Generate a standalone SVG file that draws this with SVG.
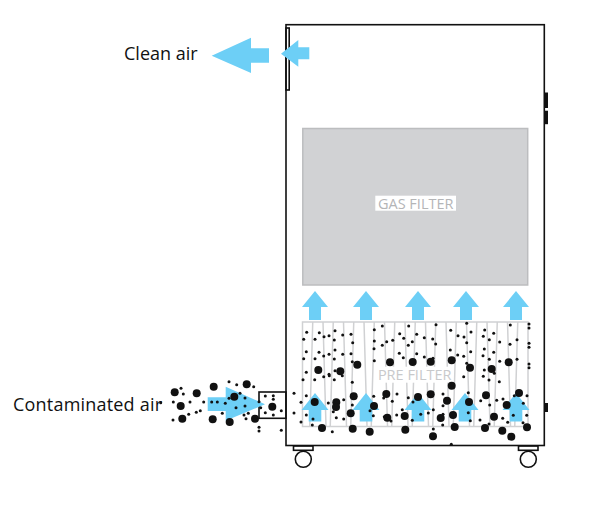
<svg xmlns="http://www.w3.org/2000/svg" width="591" height="506" viewBox="0 0 591 506">
<style>
.k{fill:none;stroke:#111;stroke-width:1.6}
.blk{fill:#111}
.air{fill:#6dcff6}
.lbl{font-family:"Open Sans","Liberation Sans",sans-serif;fill:#111;font-size:18px}
.flt{font-family:"Open Sans","Liberation Sans",sans-serif;fill:#b4b5b7;font-size:14.500px;text-anchor:middle}
.pleat{fill:none;stroke:#d0d1d3;stroke-width:1.500}
</style>
<defs>
<path id="up" class="air" d="M0 0L13.500 17H6.300V28.500H-6.300V17H-13.500Z"/>
<path id="up2" class="air" d="M0 0L13 16H6V29H-6V16H-13Z"/>
<circle id="l" r="4" class="blk"/>
<circle id="s" r="1.500" class="blk"/>
</defs>
<rect width="591" height="506" fill="#fff"/>
<g id="cabinet">
<rect class="k" x="286" y="24.700" width="258.300" height="420.800"/>
<rect class="k" x="286" y="28" width="3.200" height="62"/>
<rect class="blk" x="544" y="92.500" width="4" height="15.500"/>
<rect class="blk" x="544" y="110.700" width="4" height="13.500"/>
<rect class="blk" x="544.500" y="403" width="3.500" height="9"/>
<rect class="k" x="259" y="392" width="27" height="26.300"/>
</g>
<g id="wheel-left"><rect class="k" x="293.500" y="446" width="19.500" height="4.300"/><circle class="k" cx="303.300" cy="459.300" r="8"/></g>
<g id="wheel-right"><rect class="k" x="518.500" y="446" width="19.500" height="4.300"/><circle class="k" cx="528.300" cy="459.300" r="8"/></g>
<g id="gas-filter">
<rect x="302.800" y="128.500" width="224.900" height="156.500" fill="#d1d2d4" stroke="#bcbdbf" stroke-width="1.500"/>
<rect x="375.300" y="195.700" width="80.700" height="15" fill="#fff"/>
<text class="flt" x="415.700" y="208.500">GAS FILTER</text>
</g>
<g id="pre-filter">
<rect x="302.500" y="322" width="225.500" height="104.500" class="pleat"/>
<path class="pleat" d="M312.750 322L309.750 426M323 322L326 426M333.250 322L330.250 426M343.500 322L346.500 426M353.750 322L350.750 426M364 322L367 426M374.250 322L371.250 426M384.500 322L387.500 426M394.750 322L391.750 426M405 322L408 426M415.250 322L412.250 426M425.500 322L428.500 426M435.750 322L432.750 426M446 322L449 426M456.250 322L453.250 426M466.500 322L469.500 426M476.750 322L473.750 426M487 322L490 426M497.250 322L494.250 426M507.500 322L510.500 426M517.750 322L514.750 426"/>
<rect x="376.700" y="366.700" width="76" height="16" fill="#fff"/>
<text class="flt" x="414.700" y="379.500" style="fill:#c8c9cb">PRE FILTER</text>
</g>
<g id="connectors">
<use href="#up2" x="315" y="291"/><use href="#up2" x="366" y="291"/><use href="#up2" x="418" y="291"/><use href="#up2" x="466" y="291"/><use href="#up2" x="516" y="291"/>
<use href="#up" x="315" y="393"/><use href="#up" x="366" y="393"/><use href="#up" x="418" y="393"/><use href="#up" x="465" y="393"/><use href="#up" x="516" y="393"/>
<path class="air" d="M211.700 55.700L251 37.700V48.300H269V62.700H251V73Z"/>
<path class="air" d="M281 53.700L298.300 40V47.300H309.300V59.300H298.300V66.700Z"/>
<path class="air" d="M265 404.300L225.700 386.700V397.300H207.700V411H225.700V420.700Z"/>
</g>
<g id="particles">
<use href="#l" x="318.300" y="370"/><use href="#l" x="340.300" y="371.300"/><use href="#l" x="357.300" y="364.700"/><use href="#l" x="390" y="362.300"/><use href="#l" x="412.700" y="362"/><use href="#l" x="430.700" y="361.700"/><use href="#l" x="451.700" y="360.300"/><use href="#l" x="470" y="367.700"/><use href="#l" x="491.700" y="369"/><use href="#l" x="508.700" y="362.300"/><use href="#l" x="451.700" y="385.700"/><use href="#l" x="386.300" y="394"/><use href="#l" x="418" y="397"/><use href="#l" x="430.700" y="394.300"/><use href="#l" x="447" y="400.700"/><use href="#l" x="486" y="395.300"/><use href="#l" x="519" y="393"/><use href="#l" x="506.700" y="405"/><use href="#l" x="469" y="402"/><use href="#l" x="353.700" y="396.300"/><use href="#l" x="314.700" y="402"/><use href="#l" x="336.300" y="402.300"/><use href="#l" x="336" y="407"/><use href="#l" x="374" y="406"/><use href="#l" x="350.700" y="413.300"/><use href="#l" x="387.300" y="417.700"/><use href="#l" x="404.700" y="416"/><use href="#l" x="440.700" y="418"/><use href="#l" x="453" y="415"/><use href="#l" x="494" y="416.700"/><use href="#l" x="322" y="428"/><use href="#l" x="352.700" y="428.700"/><use href="#l" x="369.700" y="431.700"/><use href="#l" x="405.300" y="429.700"/><use href="#l" x="433" y="436.300"/><use href="#l" x="454.700" y="427"/><use href="#l" x="485" y="428"/><use href="#l" x="502.300" y="430.700"/><use href="#l" x="511.300" y="436.700"/><use href="#l" x="527" y="427.300"/>
<use href="#l" x="174.700" y="392.300"/><use href="#l" x="196.700" y="393.300"/><use href="#l" x="213.700" y="386.700"/><use href="#l" x="246.700" y="384.300"/><use href="#l" x="180.700" y="406"/><use href="#l" x="182.300" y="418.700"/><use href="#l" x="212.700" y="419.300"/><use href="#l" x="229.700" y="422"/><use href="#l" x="234.300" y="396.700"/><use href="#l" x="255" y="418.700"/><use href="#l" x="272.300" y="406.700"/>
<use href="#s" x="306.700" y="332.300"/><use href="#s" x="319.300" y="332.700"/><use href="#s" x="335" y="330.700"/><use href="#s" x="303.700" y="339.300"/><use href="#s" x="315" y="339.300"/><use href="#s" x="324" y="336.700"/><use href="#s" x="329" y="335.700"/><use href="#s" x="342.700" y="335"/><use href="#s" x="351" y="334.300"/><use href="#s" x="334.300" y="340"/><use href="#s" x="352.700" y="342.700"/><use href="#s" x="374.300" y="329.700"/><use href="#s" x="382.300" y="326"/><use href="#s" x="374.300" y="341"/><use href="#s" x="382.300" y="345.300"/><use href="#s" x="386.700" y="341.700"/><use href="#s" x="392.700" y="340.300"/><use href="#s" x="399.700" y="333.700"/><use href="#s" x="403.700" y="338.300"/><use href="#s" x="408.700" y="326"/><use href="#s" x="412.300" y="341.700"/><use href="#s" x="408.300" y="345.300"/><use href="#s" x="416.700" y="334.300"/><use href="#s" x="306.300" y="351.700"/><use href="#s" x="319" y="352.300"/><use href="#s" x="335" y="350"/><use href="#s" x="323.700" y="356"/><use href="#s" x="329" y="354.300"/><use href="#s" x="342.700" y="354.300"/><use href="#s" x="351" y="353.700"/><use href="#s" x="303.700" y="358.700"/><use href="#s" x="315" y="358.700"/><use href="#s" x="334.300" y="359"/><use href="#s" x="352.300" y="361.700"/><use href="#s" x="374" y="348.700"/><use href="#s" x="374.300" y="360.700"/><use href="#s" x="399.300" y="353.300"/><use href="#s" x="403.300" y="357.700"/><use href="#s" x="306.300" y="372.300"/><use href="#s" x="335" y="370.700"/><use href="#s" x="329" y="374.300"/>
<use href="#s" x="303" y="379.700"/><use href="#s" x="314.700" y="379.700"/><use href="#s" x="323.700" y="376.700"/><use href="#s" x="334.300" y="379.700"/><use href="#s" x="329.300" y="375.700"/><use href="#s" x="342.300" y="375.700"/><use href="#s" x="352.300" y="382.300"/><use href="#s" x="306.300" y="395.700"/><use href="#s" x="301" y="402.300"/><use href="#s" x="328.300" y="403"/><use href="#s" x="343.700" y="399.700"/><use href="#s" x="352.300" y="405"/><use href="#s" x="306.300" y="415"/><use href="#s" x="333.300" y="411.700"/><use href="#s" x="336.300" y="417.700"/><use href="#s" x="343.700" y="419"/><use href="#s" x="301" y="422"/><use href="#s" x="313" y="419"/><use href="#s" x="312.300" y="425"/><use href="#s" x="332.300" y="431.700"/><use href="#s" x="373.700" y="396.300"/><use href="#s" x="383.700" y="398"/><use href="#s" x="392.300" y="401.300"/><use href="#s" x="397" y="394"/><use href="#s" x="408.300" y="397.700"/><use href="#s" x="413" y="402"/><use href="#s" x="402.300" y="409.700"/><use href="#s" x="370" y="410.700"/><use href="#s" x="373.300" y="415.700"/><use href="#s" x="384.300" y="416.700"/><use href="#s" x="391" y="421"/><use href="#s" x="412.300" y="420.300"/><use href="#s" x="396.700" y="415"/>
<use href="#s" x="436" y="324.700"/><use href="#s" x="424.300" y="337.700"/><use href="#s" x="432.700" y="339"/><use href="#s" x="435.700" y="344"/><use href="#s" x="450.700" y="330.300"/><use href="#s" x="458" y="335.700"/><use href="#s" x="464" y="337"/><use href="#s" x="466.700" y="323.300"/><use href="#s" x="471" y="332"/><use href="#s" x="466.700" y="342.700"/><use href="#s" x="470.700" y="351.700"/><use href="#s" x="450.300" y="350"/><use href="#s" x="457.700" y="355"/><use href="#s" x="463.700" y="356.300"/><use href="#s" x="416.700" y="353.700"/><use href="#s" x="424.300" y="357"/><use href="#s" x="433" y="358.300"/><use href="#s" x="484.700" y="330"/><use href="#s" x="483.300" y="336.300"/><use href="#s" x="489.300" y="339.700"/><use href="#s" x="493.700" y="333.300"/><use href="#s" x="499.700" y="342"/><use href="#s" x="510" y="344.300"/><use href="#s" x="510.300" y="325"/><use href="#s" x="517" y="339.700"/><use href="#s" x="529" y="324"/><use href="#s" x="529" y="328"/><use href="#s" x="529" y="343.300"/><use href="#s" x="529" y="347.300"/><use href="#s" x="484.300" y="349"/><use href="#s" x="483" y="355.700"/><use href="#s" x="489.300" y="359.300"/><use href="#s" x="493.700" y="352.300"/><use href="#s" x="499.700" y="361.300"/><use href="#s" x="517" y="359.300"/><use href="#s" x="529" y="364"/><use href="#s" x="529" y="367.700"/><use href="#s" x="466.700" y="363.300"/><use href="#s" x="484.300" y="370"/><use href="#s" x="494.300" y="373.300"/>
<use href="#s" x="463.700" y="376.700"/><use href="#s" x="483.300" y="376.300"/><use href="#s" x="489" y="380"/><use href="#s" x="499.300" y="381.700"/><use href="#s" x="443" y="394"/><use href="#s" x="443" y="405.700"/><use href="#s" x="468.300" y="392.700"/><use href="#s" x="480.700" y="400.700"/><use href="#s" x="489.700" y="405"/><use href="#s" x="496.700" y="400.300"/><use href="#s" x="503" y="399"/><use href="#s" x="514.300" y="395.700"/><use href="#s" x="527" y="395.700"/><use href="#s" x="523.300" y="403.300"/><use href="#s" x="433.300" y="409.700"/><use href="#s" x="428.300" y="413"/><use href="#s" x="420.700" y="414.300"/><use href="#s" x="443" y="414.300"/><use href="#s" x="442.700" y="425"/><use href="#s" x="468.300" y="412.700"/><use href="#s" x="470.300" y="420.700"/><use href="#s" x="480" y="420"/><use href="#s" x="489" y="424"/><use href="#s" x="502.700" y="418.300"/><use href="#s" x="507.700" y="422.300"/><use href="#s" x="513.300" y="415.300"/><use href="#s" x="526.700" y="415.300"/><use href="#s" x="523" y="422.700"/><use href="#s" x="433.300" y="429"/><use href="#s" x="451.300" y="444.300"/>
<use href="#s" x="181" y="388.300"/><use href="#s" x="183.300" y="394"/><use href="#s" x="190" y="402"/><use href="#s" x="203.700" y="402"/><use href="#s" x="173.300" y="402"/><use href="#s" x="160.700" y="402.700"/><use href="#s" x="173" y="420"/><use href="#s" x="188.700" y="414.300"/><use href="#s" x="196.300" y="412.300"/><use href="#s" x="200.300" y="410.700"/><use href="#s" x="211.700" y="402"/><use href="#s" x="217.300" y="402"/><use href="#s" x="225.300" y="403.300"/><use href="#s" x="229" y="381.700"/><use href="#s" x="236.700" y="384.700"/><use href="#s" x="253.700" y="386.700"/><use href="#s" x="240" y="393.300"/><use href="#s" x="245" y="398"/><use href="#s" x="229" y="398.300"/><use href="#s" x="236" y="407.700"/><use href="#s" x="245" y="406"/><use href="#s" x="222.300" y="413.300"/><use href="#s" x="244" y="415"/><use href="#s" x="248.300" y="413.300"/><use href="#s" x="246" y="418.700"/><use href="#s" x="259" y="401.700"/><use href="#s" x="260.700" y="407.700"/><use href="#s" x="259" y="427.300"/><use href="#s" x="259" y="431"/><use href="#s" x="265.300" y="396"/><use href="#s" x="273.300" y="395.700"/><use href="#s" x="273.300" y="399.300"/><use href="#s" x="265.300" y="412.700"/><use href="#s" x="273.300" y="415"/><use href="#s" x="281.300" y="410.700"/><use href="#s" x="281.300" y="430.300"/><use href="#s" x="294" y="393.300"/><use href="#s" x="294" y="413"/>
</g>
<g id="labels">
<text class="lbl" x="124" y="60">Clean air</text>
<text class="lbl" x="13" y="411" textLength="149">Contaminated air</text>
</g>
</svg>
